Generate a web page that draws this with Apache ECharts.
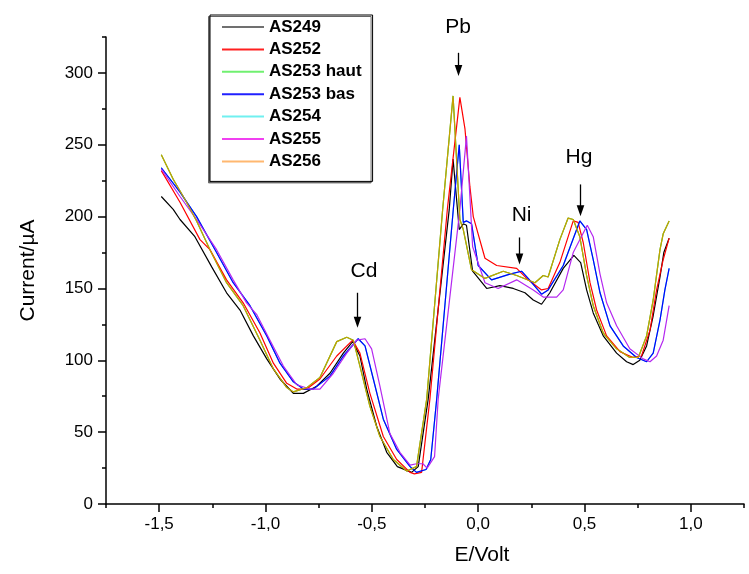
<!DOCTYPE html>
<html><head><meta charset="utf-8">
<script src="https://cdn.jsdelivr.net/npm/echarts@6/dist/echarts.min.js"></script>
<style>html,body{margin:0;padding:0;background:#fff}#c{width:749px;height:574px}</style>
</head><body><div id="c"></div>
<script>
// ---- data (E/Volt, Current/µA) ----
const AS249 = [[-1.49,214],[-1.434,205],[-1.402,198],[-1.332,186],[-1.253,165],[-1.183,147],[-1.12,135],[-1.057,117],[-0.994,101],[-0.932,87],[-0.869,77],[-0.822,77],[-0.759,82],[-0.697,91],[-0.634,105],[-0.59,113],[-0.556,103],[-0.524,80],[-0.477,54],[-0.43,36],[-0.38,26],[-0.313,22],[-0.282,26],[-0.235,73],[-0.136,205],[-0.118,240],[-0.089,191],[-0.07,195],[-0.055,194],[-0.026,162],[0.04,150],[0.102,152],[0.165,150],[0.22,147],[0.259,142],[0.298,139],[0.337,147],[0.4,164],[0.45,173],[0.482,168],[0.51,149],[0.541,133],[0.588,117],[0.651,105],[0.698,99],[0.729,97],[0.76,100],[0.792,110],[0.823,131],[0.855,158],[0.873,175],[0.898,185]];
const AS252 = [[-1.49,232],[-1.402,210],[-1.308,184],[-1.261,177],[-1.183,156],[-1.105,140],[-1.026,119],[-0.963,98],[-0.9,84],[-0.853,80],[-0.806,80],[-0.744,87],[-0.665,103],[-0.59,114],[-0.556,105],[-0.509,77],[-0.446,47],[-0.383,31],[-0.32,22],[-0.3,21],[-0.266,22],[-0.227,73],[-0.145,205],[-0.086,283],[-0.062,261],[-0.039,221],[-0.023,200],[0.032,171],[0.087,166],[0.181,164],[0.235,156],[0.298,149],[0.329,150],[0.384,168],[0.447,197],[0.47,196],[0.494,182],[0.526,154],[0.557,135],[0.604,117],[0.667,106],[0.729,102],[0.768,103],[0.808,121],[0.839,149],[0.87,170],[0.898,185]];
const AS253_haut = [[-1.49,243],[-1.434,226],[-1.371,210],[-1.324,197],[-1.261,177],[-1.183,154],[-1.105,138],[-1.026,114],[-0.963,94],[-0.9,81],[-0.869,78],[-0.806,81],[-0.744,88],[-0.665,113],[-0.618,116],[-0.587,114],[-0.556,96],[-0.509,68],[-0.462,47],[-0.399,31],[-0.336,23],[-0.29,26],[-0.242,73],[-0.167,205],[-0.118,284],[-0.086,198],[-0.07,191],[-0.031,163],[0.032,157],[0.118,162],[0.181,159],[0.267,154],[0.306,159],[0.329,158],[0.384,184],[0.423,199],[0.447,198],[0.478,186],[0.51,159],[0.541,138],[0.588,119],[0.651,108],[0.713,102],[0.753,102],[0.792,117],[0.823,142],[0.855,177],[0.87,188],[0.898,197]];
const AS253_bas = [[-1.49,234],[-1.402,217],[-1.324,200],[-1.23,175],[-1.152,154],[-1.073,138],[-0.994,117],[-0.932,98],[-0.869,85],[-0.822,80],[-0.775,80],[-0.697,89],[-0.634,103],[-0.564,115],[-0.532,110],[-0.493,87],[-0.446,59],[-0.383,38],[-0.32,26],[-0.29,22],[-0.245,24],[-0.223,31],[-0.195,73],[-0.117,205],[-0.089,250],[-0.07,196],[-0.054,197],[-0.031,195],[0.0,166],[0.063,156],[0.149,160],[0.204,162],[0.235,157],[0.298,146],[0.329,149],[0.4,166],[0.478,197],[0.51,191],[0.541,170],[0.573,147],[0.62,124],[0.682,110],[0.745,102],[0.792,99],[0.823,105],[0.855,128],[0.878,149],[0.898,164]];
const AS254 = [[-1.49,234],[-1.402,217],[-1.324,200],[-1.23,175],[-1.152,154],[-1.073,138],[-0.994,117],[-0.932,98],[-0.869,85],[-0.822,80],[-0.775,80],[-0.697,89],[-0.634,103],[-0.564,115],[-0.532,110],[-0.493,87],[-0.446,59],[-0.383,38],[-0.32,26],[-0.29,22],[-0.245,24],[-0.223,31],[-0.195,73],[-0.117,205],[-0.089,250],[-0.07,196],[-0.054,197],[-0.031,195],[0.0,166],[0.063,156],[0.149,160],[0.204,162],[0.235,157],[0.298,146],[0.329,149],[0.4,166],[0.478,197],[0.51,191],[0.541,170],[0.573,147],[0.62,124],[0.682,110],[0.745,102],[0.792,99],[0.823,105],[0.855,128],[0.878,149],[0.898,164]];
const AS255 = [[-1.49,233],[-1.402,214],[-1.324,198],[-1.23,177],[-1.152,156],[-1.089,140],[-1.042,132],[-0.979,114],[-0.916,96],[-0.853,83],[-0.791,80],[-0.744,80],[-0.681,91],[-0.618,105],[-0.571,114],[-0.532,115],[-0.501,108],[-0.462,82],[-0.415,49],[-0.368,36],[-0.32,27],[-0.29,28],[-0.26,28],[-0.24,25],[-0.205,33],[-0.188,73],[-0.086,205],[-0.055,256],[-0.039,214],[-0.026,179],[0.032,154],[0.094,150],[0.181,156],[0.259,149],[0.306,144],[0.369,144],[0.4,149],[0.447,175],[0.513,194],[0.541,186],[0.573,160],[0.604,140],[0.651,124],[0.713,108],[0.776,101],[0.808,99],[0.839,103],[0.87,114],[0.898,138]];
const AS256 = [[-1.49,243],[-1.434,226],[-1.371,210],[-1.324,197],[-1.261,177],[-1.183,154],[-1.105,138],[-1.026,114],[-0.963,94],[-0.9,81],[-0.869,78],[-0.806,81],[-0.744,88],[-0.665,113],[-0.618,116],[-0.587,114],[-0.556,96],[-0.509,68],[-0.462,47],[-0.399,31],[-0.336,23],[-0.29,26],[-0.242,73],[-0.167,205],[-0.118,284],[-0.086,198],[-0.07,191],[-0.031,163],[0.032,157],[0.118,162],[0.181,159],[0.267,154],[0.306,159],[0.329,158],[0.384,184],[0.423,199],[0.447,198],[0.478,186],[0.51,159],[0.541,138],[0.588,119],[0.651,108],[0.713,102],[0.753,102],[0.792,117],[0.823,142],[0.855,177],[0.87,188],[0.898,197]];

const seriesNames = ['AS249','AS252','AS253 haut','AS253 bas','AS254','AS255','AS256'];
const seriesData = [AS249, AS252, AS253_haut, AS253_bas, AS254, AS255, AS256];

const xMajorTicks = [-1.5,-1.0,-0.5,0.0,0.5,1.0];
const xMinorTicks = [-1.75,-1.25,-0.75,-0.25,0.25,0.75,1.25];
const yMajorTicks = [0,50,100,150,200,250,300];
const yMinorTicks = [25,75,125,175,225,275,325];

// peak annotations in data coordinates: arrow from tail to tip, label above
const peakLabels = ['Pb','Cd','Ni','Hg'];
const peakX      = [-0.094,-0.569,0.192,0.478];
const peakTail   = [314,147,185.5,222.4];
const peakTip    = [297.8,122.6,166.7,200.3];
const peakTextX  = [-0.094,-0.537,0.204,0.474];
const peakTextY  = [332,162.2,201.2,241];

// ---- styles ----
const lineColors   = ['#000000','#ff0000','#33cc33','#0000ff','#33dddd','#b428f0','#c8a000'];
const legendColors = ['#707070','#ff2020','#70f070','#2020ff','#70f0f0','#f040f0','#ffb870'];
const zOrder       = [3,3,1,3,1,3,4];
const FONT = "'Liberation Sans', Arial, sans-serif";

const chart = echarts.init(document.getElementById('c'), null, {renderer:'canvas'});

const series = seriesNames.map((n,i)=>({
  name:n, type:'line', data:seriesData[i], showSymbol:false, symbol:'none',
  z:zOrder[i], animation:false,
  lineStyle:{color:lineColors[i], width:1.2}, itemStyle:{color:lineColors[i]}
}));

const axisLineStyle = {color:'#000', width:1.5};

chart.setOption({
  animation:false,
  backgroundColor:'#fff',
  grid:{left:106, right:5, top:37, bottom:70, containLabel:false},
  legend:{
    orient:'vertical', left:210, top:15,
    padding:[3,11,11,12],
    backgroundColor:'#fff', borderColor:'#000', borderWidth:1,
    shadowColor:'#666', shadowOffsetX:-1.5, shadowOffsetY:1.5, shadowBlur:0,
    icon:'rect', itemWidth:42, itemHeight:2, itemGap:4.4,
    selectedMode:false,
    textStyle:{fontFamily:FONT, fontSize:17, fontWeight:'bold', color:'#000', lineHeight:18},
    data:seriesNames.map((n,i)=>({name:n, icon:'rect', itemStyle:{color:legendColors[i]}}))
  },
  xAxis:[{
    type:'value', min:-1.75, max:1.25,
    name:'E/Volt', nameLocation:'middle', nameGap:41,
    nameTextStyle:{fontFamily:FONT, fontSize:21, color:'#000', padding:[0,0,0,114]},
    axisLine:{show:true, onZero:false, lineStyle:axisLineStyle},
    axisTick:{show:true, inside:false, length:8, lineStyle:axisLineStyle, customValues:xMajorTicks},
    axisLabel:{show:true, margin:12, fontFamily:FONT, fontSize:17, color:'#000',
      customValues:xMajorTicks, formatter:v=>Number(v).toFixed(1).replace('.',',')},
    splitLine:{show:false}
  },{
    type:'value', min:-1.75, max:1.25, position:'bottom', gridIndex:0,
    axisLine:{show:false, onZero:false},
    axisTick:{show:true, inside:false, length:4, lineStyle:axisLineStyle, customValues:xMinorTicks},
    axisLabel:{show:false}, splitLine:{show:false}
  }],
  yAxis:[{
    type:'value', min:0, max:325,
    name:'Current/µA', nameLocation:'middle', nameGap:67, nameRotate:90,
    nameTextStyle:{fontFamily:FONT, fontSize:21, color:'#000'},
    axisLine:{show:true, onZero:false, lineStyle:axisLineStyle},
    axisTick:{show:true, inside:false, length:8, lineStyle:axisLineStyle, customValues:yMajorTicks},
    axisLabel:{show:true, margin:13, fontFamily:FONT, fontSize:17, color:'#000',
      customValues:yMajorTicks, formatter:v=>String(v)},
    splitLine:{show:false}
  },{
    type:'value', min:0, max:325, position:'left', gridIndex:0,
    axisLine:{show:false, onZero:false},
    axisTick:{show:true, inside:false, length:4, lineStyle:axisLineStyle, customValues:yMinorTicks},
    axisLabel:{show:false}, splitLine:{show:false}
  }],
  series:series
});

function drawAnnotations(){
  const els = [];
  peakLabels.forEach((lab,i)=>{
    const tail = chart.convertToPixel({xAxisIndex:0, yAxisIndex:0},[peakX[i], peakTail[i]]);
    const tip  = chart.convertToPixel({xAxisIndex:0, yAxisIndex:0},[peakX[i], peakTip[i]]);
    const txt  = chart.convertToPixel({xAxisIndex:0, yAxisIndex:0},[peakTextX[i], peakTextY[i]]);
    const px = Math.round(tip[0])+0.5;
    els.push({type:'line', silent:true, z:20,
      shape:{x1:px, y1:tail[1], x2:px, y2:tip[1]-9},
      style:{stroke:'#000', lineWidth:1.3}});
    els.push({type:'polygon', silent:true, z:20,
      shape:{points:[[px, tip[1]],[px-3.8, tip[1]-11],[px+3.8, tip[1]-11]]},
      style:{fill:'#000'}});
    els.push({type:'text', silent:true, z:20, x:txt[0], y:txt[1],
      style:{text:lab, fill:'#000', font:"21px 'Liberation Sans', Arial, sans-serif",
        align:'center', verticalAlign:'middle'}});
  });
  chart.setOption({graphic:els});
}
drawAnnotations();
</script>
</body></html>
